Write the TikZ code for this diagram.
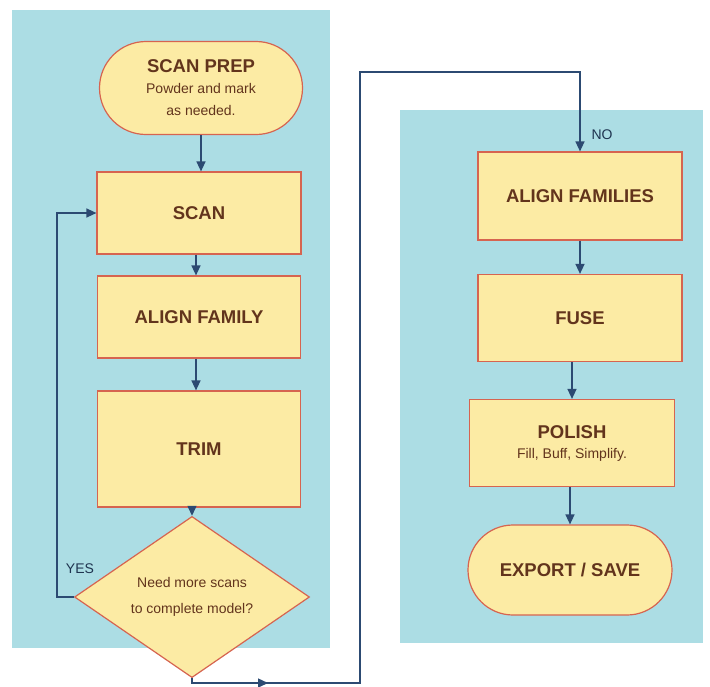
\documentclass[tikz,border=0pt]{standalone}
\usepackage{fontspec}
\setmainfont{Liberation Sans}
\usetikzlibrary{shapes.geometric,shapes.misc,arrows.meta}
\definecolor{panelblue}{RGB}{172,221,228}
\definecolor{boxfill}{RGB}{252,235,164}
\definecolor{boxline}{RGB}{214,100,80}
\definecolor{txtbrown}{RGB}{98,52,28}
\definecolor{arrowblue}{RGB}{44,74,114}
\newcommand{\subfnt}{\fontsize{14}{20}\selectfont\mdseries}
\tikzset{
  panel/.style={fill=panelblue,draw=none},
  procbox/.style={rectangle,draw=boxline,fill=boxfill,line width=1.2pt,inner sep=0pt,
    text=txtbrown,align=center,font=\fontsize{18.5}{22}\selectfont\bfseries},
  termbox/.style={procbox,rounded rectangle},
  decbox/.style={diamond,draw=boxline,fill=boxfill,line width=1.2pt,inner sep=0pt,
    text=txtbrown,align=center,font=\fontsize{14}{26}\selectfont},
  conn/.style={draw=arrowblue,line width=1.4pt},
  arr/.style={conn,-{Triangle[length=10pt,width=9pt]}},
  lbl/.style={text=arrowblue!70!black,font=\fontsize{14}{16}\selectfont}
}
\begin{document}
\begin{tikzpicture}[x=1pt,y=-1pt]
\useasboundingbox[fill=white] (0,0) rectangle (710,686);
% panels
\fill[panel] (12,10) rectangle (330,648);
\fill[panel] (400,110) rectangle (703,643);
% left column
\node[termbox,minimum width=203pt,minimum height=93pt] (prep) at (201,88)
  {SCAN PREP\\[-1pt]\subfnt Powder and mark\\\subfnt as needed.};
\node[procbox,minimum width=204pt,minimum height=82pt] (scan) at (199,213) {SCAN};
\node[procbox,minimum width=203pt,minimum height=82pt] (alignf) at (199,317) {ALIGN FAMILY};
\node[procbox,minimum width=203pt,minimum height=116pt] (trim) at (199,449) {TRIM};
\node[decbox,minimum width=235pt,minimum height=99pt] (dec) at (192,597)
  {Need more scans\\to complete model?};
% right column
\node[procbox,minimum width=204pt,minimum height=88pt] (afam) at (580,196) {ALIGN FAMILIES};
\node[procbox,minimum width=204pt,minimum height=87pt] (fuse) at (580,318) {FUSE};
\node[procbox,minimum width=205pt,minimum height=87pt] (polish) at (572,443)
  {POLISH\\[-2pt]\subfnt Fill, Buff, Simplify.};
\node[termbox,minimum width=204pt,minimum height=90pt] (export) at (570,570) {EXPORT / SAVE};
% labels
\node[lbl] (yes) at (80,569) {YES};
\node[lbl] (no) at (602,135) {NO};
% connectors
\draw[arr] (prep.south) -- (prep.south |- scan.north);
\draw[arr] (scan.south -| 196,0) -- (alignf.north -| 196,0);
\draw[arr] (alignf.south -| 196,0) -- (trim.north -| 196,0);
\draw[arr] (dec.north |- trim.south) -- (dec.north);
\coordinate (lp) at (57,597);
\draw[arr] (dec.west) -- (lp) |- (scan.west);
\coordinate (r1) at (360,683);
\coordinate (r2) at (360,72);
\draw[arr] (dec.south) |- (r1) -- (r2) -| (afam.north);
\coordinate (m1) at (240,683);
\coordinate (m2) at (268,683);
\draw[arr] (m1) -- (m2);
\draw[arr] (afam.south) -- (afam.south |- fuse.north);
\draw[arr] (fuse.south -| polish.north) -- (polish.north);
\draw[arr] (polish.south -| export.north) -- (export.north);
\end{tikzpicture}
\end{document}
